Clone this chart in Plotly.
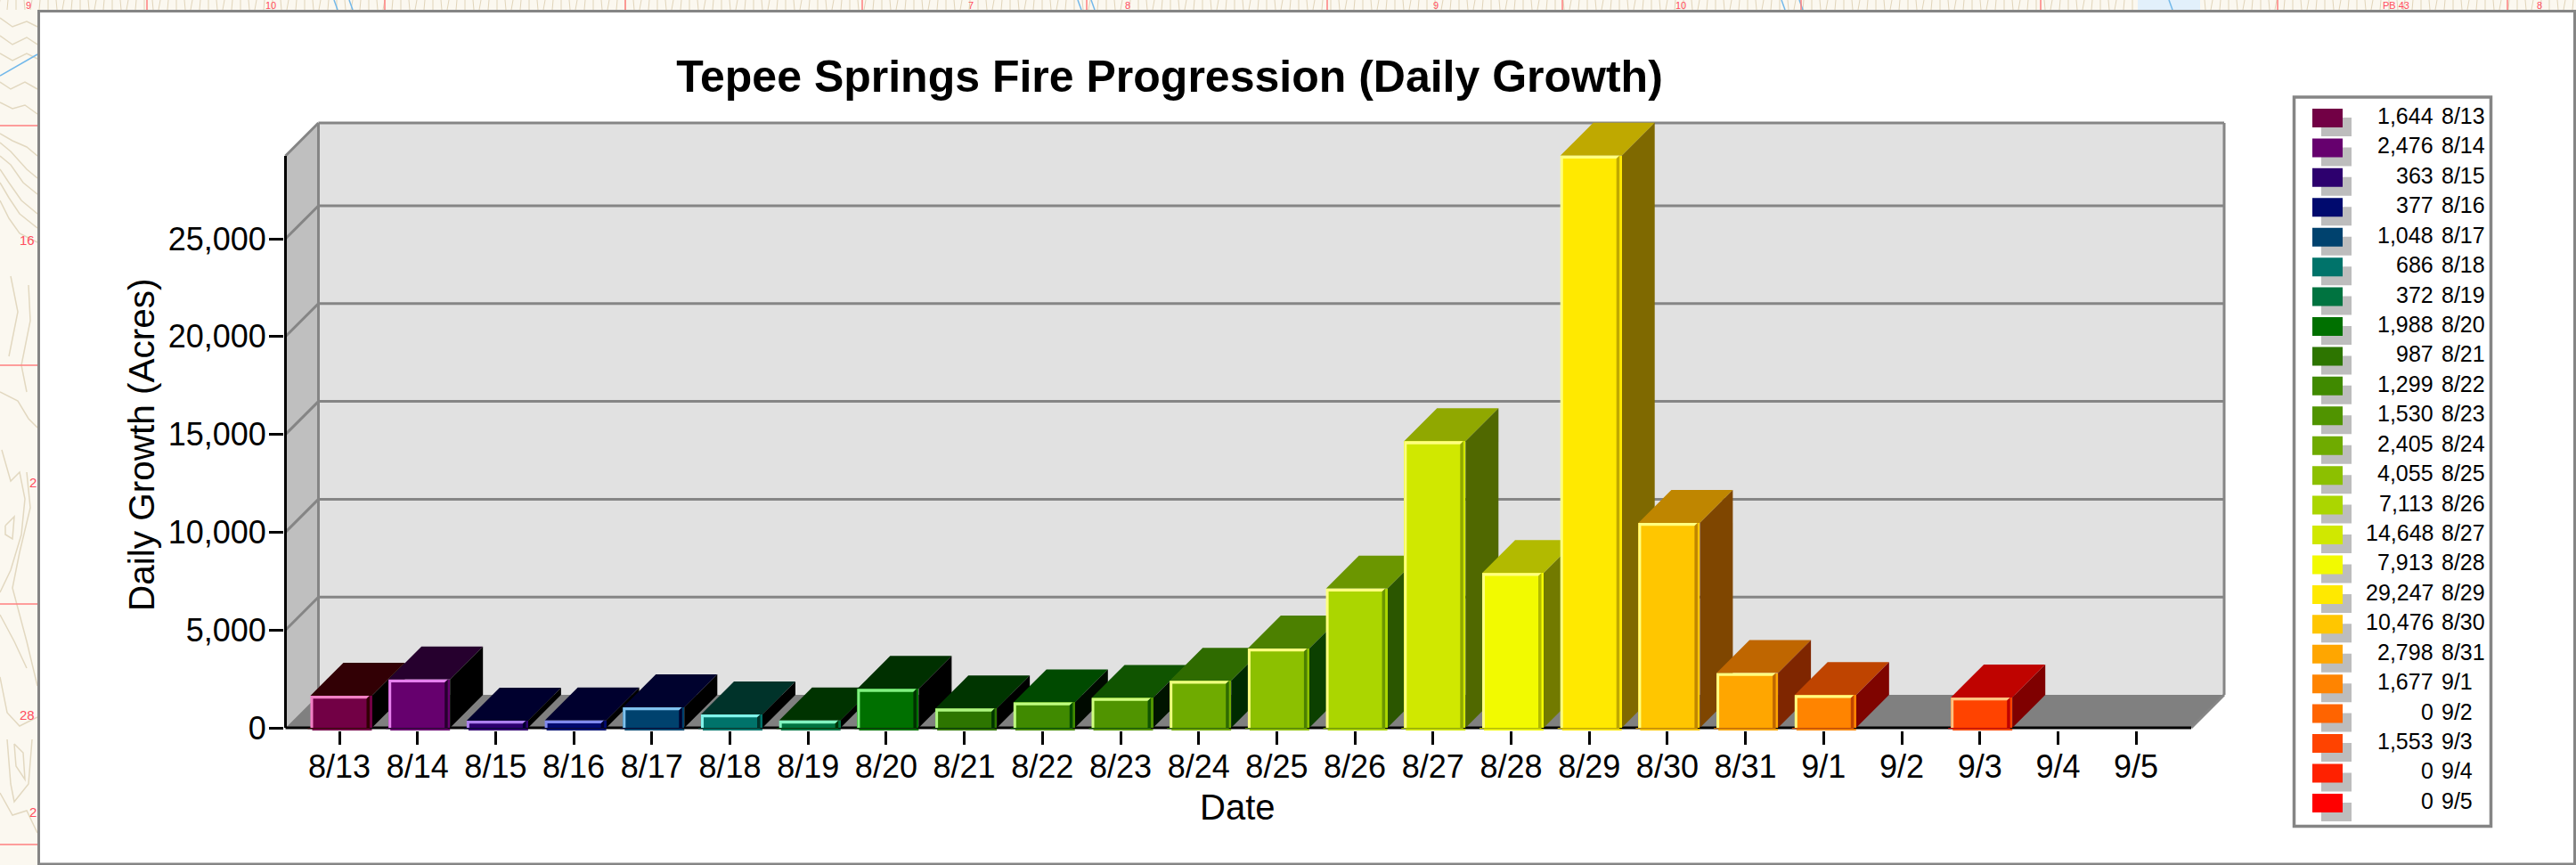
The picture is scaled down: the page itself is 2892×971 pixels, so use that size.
import plotly.graph_objects as go

# ---------- data ----------
dates = ["8/13","8/14","8/15","8/16","8/17","8/18","8/19","8/20","8/21","8/22","8/23","8/24",
         "8/25","8/26","8/27","8/28","8/29","8/30","8/31","9/1","9/2","9/3","9/4","9/5"]
growth = [1644,2476,363,377,1048,686,372,1988,987,1299,1530,2405,
          4055,7113,14648,7913,29247,10476,2798,1677,0,1553,0,0]
colors = ["#720045","#66006e","#2d006e","#000a6e","#00426e","#00736a","#007340","#007000",
          "#2d7500","#408a00","#509400","#6fab00","#8cc000","#abd600","#d0e800","#f2fa00",
          "#ffe900","#ffc600","#ffa600","#ff8400","#ff6400","#ff4300","#ff2100","#ff0000"]
y_ticks = [0,5000,10000,15000,20000,25000]

# map labels peeking out around the chart panel: text, x, y
map_labels = [("9",32,6.5),("10",304,6.5),("7",1090,6.5),("8",1266,6.5),("9",1612,6.5),("10",1887,6.5),
              ("PB 43",2690,6.5),("8",2851,6.5),("16",30,269),("28",30,802),("2",37,541),("2",37,911)]
section_h = [141,410,678,948]
section_v = [165,432,702,968,1220,1490,1754,2022,2291,2557,2815]
water_v = [375,392,1210,1225,2000,2020,2435]
contour_paths = [
    [(0,20),(14,30),(30,24),(42,30)],
    [(0,40),(14,50),(30,42),(42,50)],
    [(0,60),(14,68),(30,60),(42,66)],
    [(0,92),(12,100),(28,92),(42,100)],
    [(0,115),(14,122),(28,118),(42,128)],
    [(0,150),(14,158),(30,165),(42,175)],
    [(0,160),(12,170),(30,190),(42,200)],
    [(0,175),(12,185),(26,205),(42,218)],
    [(0,190),(10,205),(24,225),(42,240)],
    [(0,205),(10,222),(22,240),(42,256)],
    [(0,225),(10,245),(22,262),(42,272)],
    [(12,310),(20,350),(10,400)],
    [(32,320),(34,360),(24,410),(30,440)],
    [(0,440),(20,450),(32,470),(42,480)],
    [(2,505),(12,540),(22,530),(28,560),(24,600),(12,640),(0,665)],
    [(30,530),(34,570),(22,620),(14,660),(30,720),(42,770)],
    [(6,590),(16,580),(14,605),(6,600),(6,590)],
    [(0,690),(16,720),(30,750)],
    [(0,760),(8,800),(22,815),(42,805)],
    [(16,835),(26,845),(28,875),(18,860),(16,835)],
    [(8,830),(12,880),(16,900),(32,880),(36,830)],
    [(0,890),(14,915),(30,910),(42,935)],
]

# ---------- geometry ----------
W, H = 2892, 971
PX_PER_CAT = 87.7          # horizontal pixels per category
PX_PER_UNIT = 109.8/5000   # vertical pixels per acre
X_ORIGIN, Y_ORIGIN = 381, 817
def ux(px): return (px - X_ORIGIN)/PX_PER_CAT      # px offset -> category coordinate
def dxp(px): return px/PX_PER_CAT
def dyp(px): return px/PX_PER_UNIT
def uy(px): return (Y_ORIGIN - px)/PX_PER_UNIT

PLOT_L, PLOT_R, PLOT_T, PLOT_B = 319, 2502, 135, 820
DEPTH_X, DEPTH_Y = dxp(37), dyp(37)
BAR_W = dxp(69)
BAR_OFF = dxp(2)
WALL_L, WALL_R, WALL_TOP = ux(320.5), ux(2460), uy(175)

def px(x): return x/W
def py(y): return 1 - y/H
def clamp(v): return max(0, min(255, v))
def shift(c, d):
    r, g, b = int(c[1:3],16), int(c[3:5],16), int(c[5:7],16)
    return "#%02x%02x%02x" % (clamp(r+d), clamp(g+d), clamp(b+d))

def poly(pts, fill, layer="below"):
    path = "M" + "L".join(f"{a:.4f},{b:.2f}" for a, b in pts) + "Z"
    return dict(type="path", path=path, xref="x", yref="y", fillcolor=fill,
                line=dict(width=0), layer=layer)

def seg(x0, y0, x1, y1, color="#858585", width=3, layer="below"):
    return dict(type="line", x0=x0, y0=y0, x1=x1, y1=y1, xref="x", yref="y",
                line=dict(color=color, width=width), layer=layer)

def prect(x0, y0, x1, y1, fill, line=None, lw=0, layer="below"):
    return dict(type="rect", xref="paper", yref="paper", x0=px(x0), x1=px(x1), y0=py(y0), y1=py(y1),
                fillcolor=fill, line=dict(color=line or fill, width=lw), layer=layer)

def pline(x0, y0, x1, y1, color, width=1):
    return dict(type="line", xref="paper", yref="paper", x0=px(x0), x1=px(x1), y0=py(y0), y1=py(y1),
                line=dict(color=color, width=width), layer="below")

shapes = []
annotations = []

# map fragments around the panel
for t in range(0, 2892, 9):
    shapes.append(pline(t, 0, t + (t % 4) - 2, 11, "#e0d4b8", 1))
for pts in contour_paths:
    path = "M" + "L".join(f"{px(a):.5f},{py(b):.5f}" for a, b in pts)
    shapes.append(dict(type="path", path=path, xref="paper", yref="paper",
                       line=dict(color="#e2d8c0", width=1.5), layer="below"))
shapes.append(pline(0, 85, 42, 61, "#72b8ea", 1.5))
shapes.append(prect(2400, 0, 2470, 11, "#e2f0fb"))
for x in water_v:
    shapes.append(pline(x, 0, x + 4, 11, "#72b8ea", 1.5))
for y in section_h:
    shapes.append(pline(0, y, 42, y, "#ff7f7f", 1.5))
for x in section_v:
    shapes.append(pline(x, 0, x, 11, "#ff7f7f", 1.5))
for text, x, y in map_labels:
    annotations.append(dict(xref="paper", yref="paper", x=px(x), y=py(y), text=text, showarrow=False,
                            xanchor="center", yanchor="middle",
                            font=dict(family="Liberation Sans", size=11 if y < 20 else 15, color="#ff4d5e")))

# frame on the map background
shapes.append(prect(43.5, 12.5, 2890.5, 970, "#ffffff", "#858585", 3))

# walls and floor
bx0, bx1 = WALL_L + DEPTH_X, WALL_R + DEPTH_X
shapes.append(poly([(WALL_L,0),(bx0,DEPTH_Y),(bx0,WALL_TOP+DEPTH_Y),(WALL_L,WALL_TOP)], "#bfbfbf"))
shapes.append(poly([(bx0,DEPTH_Y),(bx1,DEPTH_Y),(bx1,WALL_TOP+DEPTH_Y),(bx0,WALL_TOP+DEPTH_Y)], "#e1e1e1"))
shapes.append(poly([(WALL_L,0),(bx0,DEPTH_Y),(bx1,DEPTH_Y),(WALL_R,0)], "#808080"))
# gridlines on the walls
for v in y_ticks[1:]:
    shapes.append(seg(WALL_L, v, bx0, v+DEPTH_Y))
    shapes.append(seg(bx0, v+DEPTH_Y, bx1, v+DEPTH_Y))
shapes.append(seg(WALL_L, WALL_TOP, bx0, WALL_TOP+DEPTH_Y))
shapes.append(seg(bx0, WALL_TOP+DEPTH_Y, bx1, WALL_TOP+DEPTH_Y))
shapes.append(seg(bx0, DEPTH_Y, bx0, WALL_TOP+DEPTH_Y))
shapes.append(seg(bx1, DEPTH_Y, bx1, WALL_TOP+DEPTH_Y))
shapes.append(seg(WALL_R, 0, bx1, DEPTH_Y))
# main axis lines
shapes.append(seg(WALL_L, 0, WALL_L, WALL_TOP, "#000000", 3))
shapes.append(seg(WALL_L, 0, WALL_R, 0, "#000000", 3))

# bar extrusions (drawn behind the front faces) and bevels (drawn above them)
b1, b3, b4 = dxp(3), dxp(3.5), dxp(2.5)
v1, v3 = dyp(3.3), dyp(2)
for i, (v, c) in enumerate(zip(growth, colors)):
    if v <= 0:
        continue
    x0 = i + BAR_OFF - BAR_W/2
    x1 = i + BAR_OFF + BAR_W/2
    top_c, side_c, light_c = shift(c, -0x40), shift(c, -0x80), shift(c, 0x80)
    shapes.append(poly([(x0,v),(x0+DEPTH_X,v+DEPTH_Y),(x1+DEPTH_X,v+DEPTH_Y),(x1,v)], top_c))
    shapes.append(poly([(x1,0),(x1+DEPTH_X,DEPTH_Y),(x1+DEPTH_X,v+DEPTH_Y),(x1,v)], side_c))
    # light top and left edges
    shapes.append(poly([(x0,v),(x1-b4,v),(x1-b4-b1,v-v1),(x0+b1,v-v1),(x0+b1,0),(x0,0)], light_c, "above"))
    # dark inner right edge
    shapes.append(poly([(x1-b4-b3,v-v1),(x1-b4,v),(x1-b4,0),(x1-b4-b3,0)], top_c, "above"))
    # dark bottom strip running slightly past the left edge
    shapes.append(poly([(x0-b1,0),(x1-b4,0),(x1-b4,dyp(-1.3)),(x0-b1,dyp(-1.3))], top_c, "above"))
    # bright strip under the bar
    shapes.append(poly([(x0+dxp(2),dyp(-1.3)),(x1,dyp(-1.3)),(x1,dyp(-3)),(x0+dxp(2),dyp(-3))], c, "above"))

# legend panel
LEG_Y0, LEG_DY = 122, 33.43
shapes.append(prect(2575.5, 109, 2796.5, 927.5, "#ffffff", "#858585", 3.5))
for i, (d, v, c) in enumerate(zip(dates, growth, colors)):
    y = LEG_Y0 + LEG_DY*i
    shapes.append(prect(2606, y+10, 2640, y+31, "#bdbdbd"))
    shapes.append(prect(2596, y, 2630, y+21, c))
    common = dict(xref="paper", yref="paper", y=py(y+8), yanchor="middle", showarrow=False,
                  font=dict(family="Liberation Sans", size=25, color="#000000"))
    annotations.append(dict(x=px(2733.5), xanchor="right", text=f"{v:,}", **common))
    annotations.append(dict(x=px(2739), xanchor="left", text=d, **common))

# axis titles
annotations.append(dict(xref="paper", yref="paper", x=px(1389), y=py(906), text="Date", showarrow=False,
                        xanchor="center", yanchor="middle",
                        font=dict(family="Liberation Sans", size=40, color="#000000")))
annotations.append(dict(xref="paper", yref="paper", x=px(159), y=py(499), text="Daily Growth (Acres)",
                        showarrow=False, textangle=-90, xanchor="center", yanchor="middle",
                        font=dict(family="Liberation Sans", size=40.5, color="#000000")))

fig = go.Figure(go.Bar(
    x=list(range(len(dates))), y=growth, customdata=dates, width=BAR_W, offset=BAR_OFF - BAR_W/2,
    marker=dict(color=colors, line=dict(width=0)), showlegend=False,
    hovertemplate="%{customdata}: %{y:,} acres<extra></extra>"))

fig.update_layout(
    template="none",
    width=W, height=H, autosize=False,
    margin=dict(l=0, r=0, t=0, b=0, pad=0),
    paper_bgcolor="#fbf8f0", plot_bgcolor="rgba(0,0,0,0)",
    font=dict(family="Liberation Sans", color="#000000"),
    title=dict(text="<b>Tepee Springs Fire Progression (Daily Growth)</b>", x=px(1313), y=py(85),
               xref="paper", yref="paper", xanchor="center", yanchor="middle",
               font=dict(family="Liberation Sans", size=50, color="#000000")),
    xaxis=dict(domain=[px(PLOT_L), px(PLOT_R)], range=[ux(PLOT_L), ux(PLOT_R)], automargin=False,
               tickmode="array", tickvals=list(range(len(dates))), ticktext=dates,
               ticks="outside", ticklen=15, tickwidth=2.5, tickcolor="#000000", ticklabelstandoff=-6,
               tickfont=dict(size=36, color="#000000"), showgrid=False, zeroline=False, showline=False),
    yaxis=dict(domain=[py(PLOT_B), py(PLOT_T)], range=[uy(PLOT_B), uy(PLOT_T)], automargin=False,
               tickmode="array", tickvals=y_ticks, tickformat=",d",
               ticks="outside", ticklen=16, tickwidth=3, tickcolor="#000000", ticklabelstandoff=-4,
               tickfont=dict(size=36, color="#000000"), showgrid=False, zeroline=False, showline=False),
    shapes=shapes, annotations=annotations, bargap=0,
)

fig.write_html("out.html", config={"displayModeBar": False},
               post_script="document.body.style.margin='0';document.body.style.overflow='hidden';")
